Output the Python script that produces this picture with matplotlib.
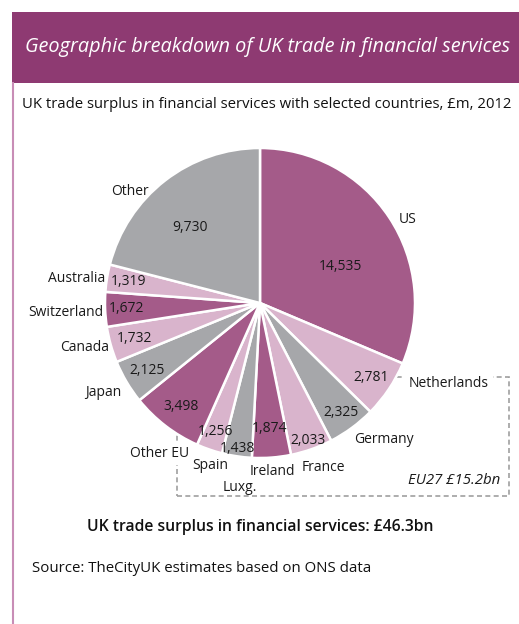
import numpy as np
import matplotlib
matplotlib.use("Agg")
import matplotlib.pyplot as plt
from matplotlib.patches import Rectangle

plt.rcParams['font.family'] = ['Open Sans', 'DejaVu Sans']

# UK trade surplus in financial services, £m, 2012 (clockwise from 12 o'clock)
countries = ["US", "Netherlands", "Germany", "France", "Ireland", "Luxg.", "Spain",
             "Other EU", "Japan", "Canada", "Switzerland", "Australia", "Other"]
surplus = [14535, 2781, 2325, 2033, 1874, 1438, 1256,
           3498, 2125, 1732, 1672, 1319, 9730]
value_labels = ["14,535", "2,781", "2,325", "2,033", "1,874", "1,438", "1,256",
                "3,498", "2,125", "1,732", "1,672", "1,319", "9,730"]
eu27_total = "EU27 £15.2bn"
uk_total = "UK trade surplus in financial services: £46.3bn"

MAUVE = "#A45B89"
PINK = "#D9B4CC"
GREY = "#A6A7AA"
BANNER = "#8E3A72"
slice_colors = [MAUVE, PINK, GREY, PINK, MAUVE, GREY, PINK,
                MAUVE, GREY, PINK, MAUVE, PINK, GREY]

# where the value sits inside each wedge: radius fraction, angle nudge (deg)
val_r = [0.57, 0.86, 0.88, 0.94, 0.81, 0.95, 0.88, 0.84, 0.85, 0.84, 0.86, 0.86, 0.66]
val_da = [-9, 0, 0, 0, 0, 0, 0, 0, 0, 0, 0, 0, 5]

# name label positions (pie radius units, text centre)
name_pos = [(0.95, 0.54), (1.22, -0.52), (0.80, -0.88), (0.41, -1.06), (0.08, -1.09),
            (-0.13, -1.19), (-0.32, -1.05), (-0.65, -0.97), (-1.01, -0.58),
            (-1.13, -0.29), (-1.25, -0.06), (-1.18, 0.16), (-0.84, 0.72)]
# names that sit over the dashed EU27 frame get a white backing
name_masked = ["Netherlands", "Other EU"]

W, H = 519, 624
R = 155.0          # pie radius in pixels
cx, cy = 260, 303  # pie centre in pixels (from top-left)

fig = plt.figure(figsize=(W / 100, H / 100), dpi=100)
ax = fig.add_axes([0, 0, 1, 1])

wedges, _ = ax.pie(surplus, colors=slice_colors, startangle=90, counterclock=False,
                   radius=1.0, wedgeprops=dict(edgecolor="white", linewidth=1.8))
ax.set_xlim(-cx / R, (W - cx) / R)
ax.set_ylim(-(H - cy) / R, cy / R)
ax.set_aspect("auto")
ax.axis("off")

# value labels inside the wedges
for w, txt, r, da in zip(wedges, value_labels, val_r, val_da):
    ang = np.deg2rad((w.theta1 + w.theta2) / 2 + da)
    ax.text(r * np.cos(ang), r * np.sin(ang), txt, ha="center", va="center",
            fontsize=10, color="#1a1a1a", zorder=4)

# country names around the pie
for name, (x, y) in zip(countries, name_pos):
    box = dict(facecolor="white", edgecolor="none", pad=3) if name in name_masked else None
    ax.text(x, y, name, ha="center", va="center", fontsize=10, color="#1a1a1a",
            zorder=4, bbox=box)

# dashed box around the EU27 group
ax.add_patch(Rectangle((177 / W, 1 - 496 / H), (509 - 177) / W, (496 - 377) / H,
                       transform=fig.transFigure, fill=False, edgecolor="#A0A0A0",
                       linestyle=(0, (3, 2)), linewidth=1.2, zorder=0))
ax.text(500 / W, 1 - 481 / H, eu27_total, transform=fig.transFigure, ha="right",
        va="center", fontsize=10.8, style="italic", color="#1a1a1a")

# header banner and frame line
fig.add_artist(Rectangle((12 / W, 1 - 83 / H), 1 - 12 / W, 71 / H,
                         transform=fig.transFigure, facecolor=BANNER, edgecolor="none"))
fig.add_artist(plt.Line2D([13 / W, 13 / W], [0, 1 - 83 / H], transform=fig.transFigure,
                          color="#C88DB6", linewidth=1.5))
fig.text(25 / W, 1 - 47 / H, "Geographic breakdown of UK trade in financial services",
         color="white", fontsize=14.3, style="italic", va="center", ha="left")
fig.text(22 / W, 1 - 105 / H,
         "UK trade surplus in financial services with selected countries, £m, 2012",
         color="#111111", fontsize=10.7, va="center", ha="left")
fig.text(260 / W, 1 - 527 / H, uk_total, color="#111111", fontsize=11.3,
         fontweight="semibold", va="center", ha="center")
fig.text(32 / W, 1 - 568 / H, "Source: TheCityUK estimates based on ONS data",
         color="#111111", fontsize=10.8, va="center", ha="left")

fig.savefig("out.png", dpi=100, facecolor="white")
